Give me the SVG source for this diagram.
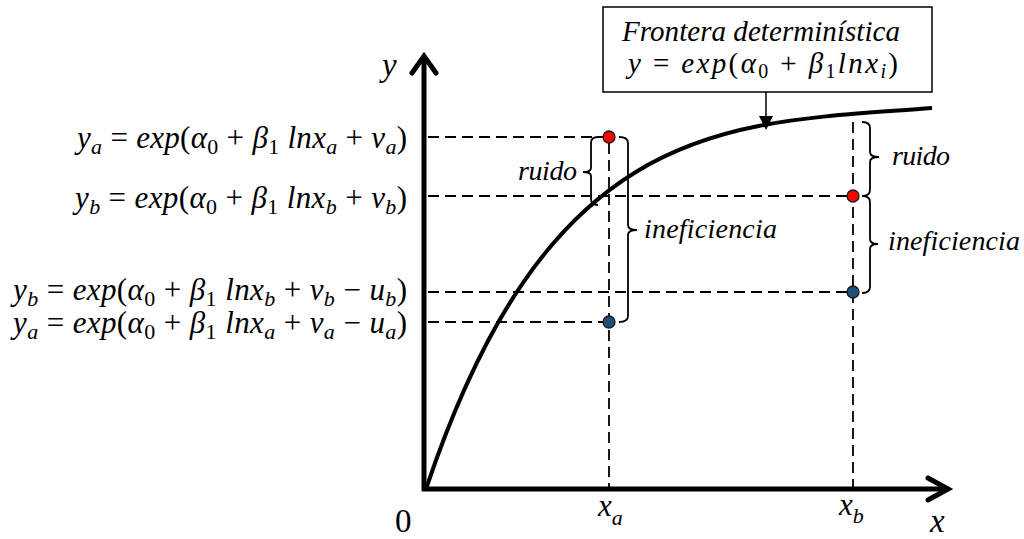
<svg xmlns="http://www.w3.org/2000/svg" width="1024" height="539" viewBox="0 0 1024 539">
<style>
.ax{stroke:#000;stroke-width:5;fill:none}
.chev{stroke:#000;stroke-width:5;fill:none;stroke-linejoin:miter;stroke-linecap:round}
.curve{stroke:#000;stroke-width:4;fill:none}
.dash{stroke:#000;stroke-width:1.8;stroke-dasharray:11 6;fill:none}
.brace{stroke:#000;stroke-width:1.8;fill:none}
.math{font-family:'Liberation Serif','Times New Roman','DejaVu Serif',serif;font-size:31px;font-style:italic;fill:#000}
.box{font-size:29px}
.big{font-size:33px}
.lbl{font-family:'Liberation Serif','Times New Roman','DejaVu Serif',serif;font-size:28px;font-style:italic;fill:#000}
.up{font-style:normal}
.sub{font-size:22px;baseline-shift:-6px}
.box .sub{font-size:20px;baseline-shift:-5px}
.red{fill:#FF0000;stroke:#1a1a1a;stroke-width:1.3}
.blue{fill:#1F4E79;stroke:#1a1a1a;stroke-width:1.3}
</style>
<rect width="1024" height="539" fill="#fff"/>

<g id="guides">
<path class="dash" d="M428,137 H603 M428,196 H847 M428,292 H847 M428,322 H603"/>
<path class="dash" d="M609,143 V488 M853,122 V488"/>
</g>

<g id="axes">
<path class="ax" d="M424,491 V58"/>
<path class="chev" d="M412,73 L424,56 L436,73"/>
<path class="ax" d="M422,489 H946"/>
<path class="chev" d="M928,478 L948,489 L928,500"/>
</g>

<g id="frontier">
<path class="curve" d="M426,489 C552,112 732,124 932,108"/>
</g>

<g id="braces">
<path class="brace" d="M598,137 Q591,137 591,143 V168 Q591,172 583,172 Q591,172 591,176 V199 Q591,205 598,205"/>
<path class="brace" d="M619,137 Q628,137 628,143 V225 Q628,230 637,230 Q628,230 628,235 V316 Q628,322 619,322"/>
<path class="brace" d="M862,122 Q870,122 870,128 V152 Q870,157 879,157 Q870,157 870,162 V190 Q870,196 862,196"/>
<path class="brace" d="M862,196 Q870,196 870,202 V239 Q870,244 878,244 Q870,244 870,249 V287 Q870,293 862,293"/>
</g>

<g id="points">
<circle class="red" cx="609" cy="137" r="6"/>
<circle class="red" cx="853" cy="196" r="6"/>
<circle class="blue" cx="853" cy="292" r="6"/>
<circle class="blue" cx="609" cy="322" r="6"/>
</g>

<g id="frontier-label">
<rect x="603" y="7" width="329" height="85" fill="#fff" stroke="#000" stroke-width="1.5"/>
<text class="math box" x="622" y="41" textLength="278" lengthAdjust="spacing">Frontera determinística</text>
<text class="math box" x="628" y="73" textLength="270" lengthAdjust="spacing">y<tspan class="up"> = </tspan>exp<tspan class="up">(</tspan>α<tspan class="sub up">0</tspan><tspan class="up"> + </tspan>β<tspan class="sub up">1</tspan>lnx<tspan class="sub">i</tspan><tspan class="up">)</tspan></text>
<line x1="766" y1="92" x2="766" y2="118" stroke="#000" stroke-width="1.5"/>
<polygon points="759,116 773,116 766,130" fill="#000"/>
</g>

<g id="y-labels">
<text class="math" x="407" y="148" text-anchor="end" textLength="330" lengthAdjust="spacing">y<tspan class="sub">a</tspan><tspan class="up"> = </tspan>exp<tspan class="up">(</tspan>α<tspan class="sub up">0</tspan><tspan class="up"> + </tspan>β<tspan class="sub up">1</tspan> lnx<tspan class="sub">a</tspan><tspan class="up"> + </tspan>v<tspan class="sub">a</tspan><tspan class="up">)</tspan></text>
<text class="math" x="407" y="208" text-anchor="end" textLength="332" lengthAdjust="spacing">y<tspan class="sub">b</tspan><tspan class="up"> = </tspan>exp<tspan class="up">(</tspan>α<tspan class="sub up">0</tspan><tspan class="up"> + </tspan>β<tspan class="sub up">1</tspan> lnx<tspan class="sub">b</tspan><tspan class="up"> + </tspan>v<tspan class="sub">b</tspan><tspan class="up">)</tspan></text>
<text class="math" x="407" y="300" text-anchor="end" textLength="394" lengthAdjust="spacing">y<tspan class="sub">b</tspan><tspan class="up"> = </tspan>exp<tspan class="up">(</tspan>α<tspan class="sub up">0</tspan><tspan class="up"> + </tspan>β<tspan class="sub up">1</tspan> lnx<tspan class="sub">b</tspan><tspan class="up"> + </tspan>v<tspan class="sub">b</tspan><tspan class="up"> − </tspan>u<tspan class="sub">b</tspan><tspan class="up">)</tspan></text>
<text class="math" x="407" y="333" text-anchor="end" textLength="394" lengthAdjust="spacing">y<tspan class="sub">a</tspan><tspan class="up"> = </tspan>exp<tspan class="up">(</tspan>α<tspan class="sub up">0</tspan><tspan class="up"> + </tspan>β<tspan class="sub up">1</tspan> lnx<tspan class="sub">a</tspan><tspan class="up"> + </tspan>v<tspan class="sub">a</tspan><tspan class="up"> − </tspan>u<tspan class="sub">a</tspan><tspan class="up">)</tspan></text>
</g>

<g id="brace-labels">
<text class="lbl" x="518" y="180" textLength="59" lengthAdjust="spacing">ruido</text>
<text class="lbl" x="644" y="238" textLength="133" lengthAdjust="spacing">ineficiencia</text>
<text class="lbl" x="892" y="165" textLength="58" lengthAdjust="spacing">ruido</text>
<text class="lbl" x="888" y="250" textLength="132" lengthAdjust="spacing">ineficiencia</text>
</g>

<g id="axis-labels">
<text class="math big" x="382" y="76">y</text>
<text class="math big" x="930" y="532">x</text>
<text class="math big up" x="395" y="532">0</text>
<text class="math" x="598" y="516">x<tspan style="font-size:22px;baseline-shift:-9px">a</tspan></text>
<text class="math" x="839" y="515">x<tspan style="font-size:22px;baseline-shift:-8px">b</tspan></text>
</g>
</svg>
